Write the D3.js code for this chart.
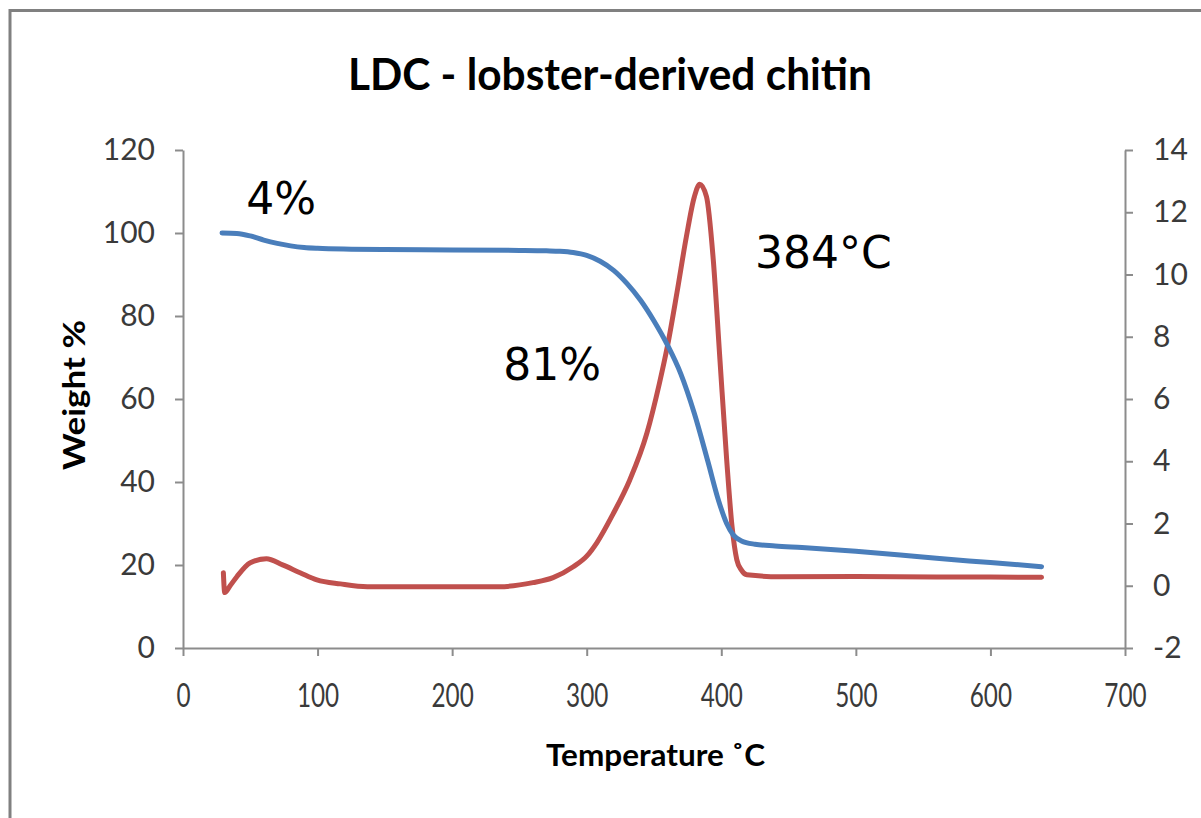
<!DOCTYPE html>
<html>
<head>
<meta charset="utf-8">
<script src="https://cdn.jsdelivr.net/npm/d3@7"></script>
<style>
  html, body { margin: 0; padding: 0; background: #fff; }
  svg { display: block; }
</style>
</head>
<body>
<svg id="chart" width="1201" height="818"></svg>
<script>
// Thermogravimetric weight curve (left axis, %)
const tgTemp = [29, 40, 50, 60, 70, 80, 90, 100, 125, 150, 200, 250, 270, 280, 290, 300, 310, 320, 330, 340, 350, 360, 370, 380, 390, 398, 404, 409, 415, 425, 440, 460, 500, 533, 560, 600, 638];
const tgWeight = [100, 99.9, 99.3, 98.3, 97.5, 96.9, 96.5, 96.3, 96.1, 96.0, 95.9, 95.8, 95.7, 95.6, 95.3, 94.6, 93.2, 91.0, 87.8, 83.8, 78.8, 73.0, 66.0, 56.5, 45.0, 35.5, 30.0, 27.2, 25.8, 25.0, 24.6, 24.2, 23.3, 22.4, 21.6, 20.6, 19.6];

// Derivative weight curve (right axis)
const dtgTemp = [30, 31, 35, 40, 50, 62, 74, 87, 99.5, 117, 137, 186, 235, 260, 275, 290, 300, 307.5, 319.5, 332, 344.7, 354, 360, 367, 374, 380, 384, 389, 394, 399, 404, 408, 411.5, 415, 419, 443.5, 500, 560, 600, 638];
const dtgValue = [0.42, -0.22, 0.0, 0.29, 0.74, 0.87, 0.67, 0.42, 0.19, 0.06, -0.03, -0.03, -0.03, 0.1, 0.26, 0.61, 0.95, 1.38, 2.3, 3.4, 4.9, 6.5, 7.7, 9.4, 11.2, 12.5, 12.9, 12.5, 10.5, 7.26, 4.05, 1.9, 0.84, 0.5, 0.35, 0.29, 0.3, 0.28, 0.28, 0.27];

const xTicks = [0, 100, 200, 300, 400, 500, 600, 700];
const yLeftTicks = [0, 20, 40, 60, 80, 100, 120];
const yRightTicks = [-2, 0, 2, 4, 6, 8, 10, 12, 14];

const annotations = [
  { text: "4%", t: 47, w: 104.5 },
  { text: "81%", t: 238, w: 64.5 },
  { text: "384°C", t: 425, w: 91.5 }
];

const svg = d3.select("#chart");

// frame around the chart area
svg.append("rect")
  .attr("x", 10).attr("y", 10.5)
  .attr("width", 1400).attr("height", 1000)
  .attr("fill", "#fff")
  .attr("stroke", "#808080").attr("stroke-width", 3);

const plotLeft = 183, plotRight = 1125, plotTop = 150, plotBottom = 648;

const x = d3.scaleLinear().domain([0, 700]).range([plotLeft, plotRight]);
const yL = d3.scaleLinear().domain([0, 120]).range([plotBottom, plotTop]);
const yR = d3.scaleLinear().domain([-2, 14]).range([plotBottom, plotTop]);

const axisColor = "#8c8c8c";
const labelColor = "#3a3a3a";
const tickFont = "Lato, 'Liberation Sans', sans-serif";
const plain = d => String(d);

function styleAxis(g, size) {
  g.selectAll(".domain").attr("stroke", axisColor).attr("stroke-width", 2);
  g.selectAll(".tick line").attr("stroke", axisColor).attr("stroke-width", 2);
  g.selectAll(".tick text")
    .attr("fill", labelColor)
    .style("font-family", tickFont)
    .style("font-size", size + "px");
}

// Left axis
const gL = svg.append("g")
  .attr("transform", `translate(${plotLeft},0)`)
  .call(d3.axisLeft(yL).tickValues(yLeftTicks).tickFormat(plain).tickSize(8).tickSizeOuter(0).tickPadding(20));
styleAxis(gL, 30);

// Right axis
const gR = svg.append("g")
  .attr("transform", `translate(${plotRight},0)`)
  .call(d3.axisRight(yR).tickValues(yRightTicks).tickFormat(plain).tickSize(8).tickSizeOuter(0).tickPadding(20));
styleAxis(gR, 30);

// Bottom axis
const gX = svg.append("g")
  .attr("transform", `translate(0,${plotBottom})`)
  .call(d3.axisBottom(x).tickValues(xTicks).tickFormat(plain).tickSize(8).tickSizeOuter(0).tickPadding(28));
styleAxis(gX, 32);
gX.selectAll(".tick text").attr("transform", "scale(0.76,1)");

// Curves
const lineTG = d3.line()
  .x((d, i) => x(tgTemp[i]))
  .y(d => yL(d))
  .curve(d3.curveMonotoneX);

const lineDTG = d3.line()
  .x((d, i) => x(dtgTemp[i]))
  .y(d => yR(d))
  .curve(d3.curveMonotoneX);

svg.append("path")
  .datum(dtgValue)
  .attr("d", lineDTG)
  .attr("fill", "none")
  .attr("stroke", "#c0504d")
  .attr("stroke-width", 5)
  .attr("stroke-linejoin", "round")
  .attr("stroke-linecap", "round");

svg.append("path")
  .datum(tgWeight)
  .attr("d", lineTG)
  .attr("fill", "none")
  .attr("stroke", "#4a7ebb")
  .attr("stroke-width", 5)
  .attr("stroke-linejoin", "round")
  .attr("stroke-linecap", "round");

// Annotation labels
svg.selectAll(".note")
  .data(annotations)
  .enter().append("text")
  .attr("class", "note")
  .attr("x", d => x(d.t))
  .attr("y", d => yL(d.w))
  .attr("fill", "#000")
  .style("font-family", "'DejaVu Sans', sans-serif")
  .style("font-size", "44px")
  .text(d => d.text);

// Title
svg.append("text")
  .attr("x", 348).attr("y", 90)
  .attr("textLength", 524).attr("lengthAdjust", "spacingAndGlyphs")
  .attr("fill", "#000")
  .style("font-family", "Lato, sans-serif")
  .style("font-weight", "bold")
  .style("font-size", "44px")
  .text("LDC - lobster-derived chitin");

// Axis titles
svg.append("text")
  .attr("transform", "translate(85,395) rotate(-90)")
  .attr("text-anchor", "middle")
  .attr("textLength", 150).attr("lengthAdjust", "spacingAndGlyphs")
  .attr("fill", "#000")
  .style("font-family", "Lato, sans-serif")
  .style("font-weight", "bold")
  .style("font-size", "30px")
  .text("Weight %");

svg.append("text")
  .attr("x", 546).attr("y", 766)
  .attr("textLength", 219).attr("lengthAdjust", "spacingAndGlyphs")
  .attr("fill", "#000")
  .style("font-family", "Lato, sans-serif")
  .style("font-weight", "bold")
  .style("font-size", "30px")
  .text("Temperature ˚C");
</script>
</body>
</html>
